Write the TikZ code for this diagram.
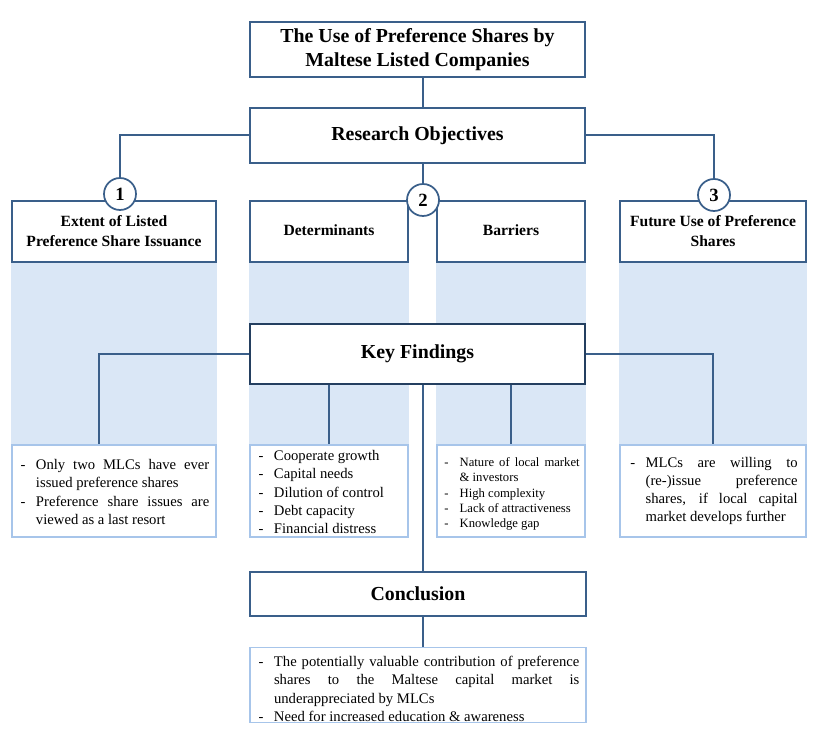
\documentclass[tikz,border=0pt]{standalone}
\usepackage{fontspec}
\setmainfont{Liberation Serif}
\usetikzlibrary{backgrounds}
\definecolor{edgeblue}{HTML}{3A5F8A}
\definecolor{darkedge}{HTML}{243F60}
\definecolor{stripblue}{HTML}{DAE7F6}
\definecolor{listedge}{HTML}{A7C5EA}
\newlength\dashind
\setlength\dashind{13pt}
\newcommand\dashitem{\par\noindent\hangindent=\dashind\hangafter=1\makebox[\dashind][l]{\hspace{1.5pt}-}}
\newcommand\liftup[1]{\vspace*{-#1}}
\newcommand\listfont{\fontsize{11}{13.7}\selectfont\tolerance=10000\hyphenpenalty=10000}
\newcommand\smallistfont{\fontsize{9.5}{11.5}\selectfont\tolerance=10000\hyphenpenalty=10000}
\tikzset{
    topbox/.style={draw=edgeblue, line width=1.3pt, fill=white, align=center,
        font=\fontsize{14.9}{18.5}\selectfont\bfseries, minimum width=251.25pt},
    headbox/.style={draw=edgeblue, line width=1.3pt, fill=white, align=center,
        font=\fontsize{11.7}{15}\selectfont\bfseries, minimum height=45.75pt},
    listbox/.style={draw=listedge, line width=1.1pt, fill=white, align=justify,
        inner xsep=5pt, inner ysep=0.5pt, minimum height=69pt, font=\listfont},
    numcircle/.style={circle, draw=edgeblue, line width=1.3pt, fill=white,
        minimum size=24pt, inner sep=0pt, font=\fontsize{14}{14}\selectfont\bfseries},
    link/.style={draw=edgeblue, line width=1.5pt}
}
\begin{document}
\begin{tikzpicture}[x=0.75pt, y=-0.75pt]
    \useasboundingbox (0,0) rectangle (817,737);
    \node[topbox, minimum height=41.25pt] (title) at (417.5,49.5)
        {The Use of Preference Shares by\\Maltese Listed Companies};
    \node[topbox, minimum height=41.25pt] (ro) at (417.5,135.5) {Research Objectives};
    \node[headbox, minimum width=153pt] (ext) at (114,231.5)
        {Extent of Listed\\Preference Share Issuance};
    \node[headbox, minimum width=118.5pt] (det) at (329,231.5) {\raisebox{2.5pt}{Determinants}};
    \node[headbox, minimum width=111pt] (bar) at (511,231.5) {\raisebox{2.5pt}{Barriers}};
    \node[headbox, minimum width=139.5pt] (fut) at (713,231.5)
        {Future Use of Preference\\Shares};
    \node[numcircle] (c1) at (120,194) {1};
    \node[numcircle] (c2) at (423,200) {2};
    \node[numcircle] (c3) at (714,195) {3};
    \node[listbox, text width=143pt] (l1) at (114,491)
        {\liftup{4.5pt}\dashitem Only two MLCs have ever \linebreak issued preference shares
         \dashitem Preference share issues are \linebreak viewed as a last resort\par};
    \node[listbox, text width=108.5pt] (l2) at (329,491)
        {\liftup{4.5pt}\dashitem Cooperate growth
         \dashitem Capital needs
         \dashitem Dilution of control
         \dashitem Debt capacity
         \dashitem Financial distress\par};
    \node[listbox, text width=103pt, inner xsep=4pt, font=\smallistfont] (l3) at (511,491)
        {\dashitem Nature of local market \linebreak \& investors
         \dashitem High complexity
         \dashitem Lack of attractiveness
         \dashitem Knowledge gap\par};
    \node[listbox, text width=127pt, inner xsep=6.25pt] (l4) at (713,491)
        {\liftup{6pt}\dashitem MLCs are willing to \linebreak (re-)issue preference \linebreak
         shares, if local capital \linebreak market develops further\par};
    \begin{scope}[on background layer]
        \fill[stripblue] (ext.south west) rectangle (l1.north east);
        \fill[stripblue] (det.south west) rectangle (l2.north east);
        \fill[stripblue] (bar.south west) rectangle (l3.north east);
        \fill[stripblue] (fut.south west) rectangle (l4.north east);
    \end{scope}
    \node[topbox, draw=darkedge, line width=2pt, minimum height=45pt] (kf) at (417.5,354)
        {Key Findings};
    \node[topbox, minimum width=252pt, minimum height=33pt] (concl) at (418,594) {Conclusion};
    \node[listbox, text width=242pt, minimum height=56.25pt] (cl) at (418,685)
        {\dashitem The potentially valuable contribution of preference \linebreak
         shares to the Maltese capital market is \linebreak underappreciated by MLCs
         \dashitem Need for increased education \& awareness\par};
    \draw[link] (c2 |- title.south) -- (c2 |- ro.north);
    \draw[link] (c2 |- ro.south) -- (c2);
    \draw[link] (ro.west) -| (c1);
    \draw[link] (ro.east) -| (c3);
    \draw[link] (kf.west) -| ([xshift=-11.25pt]l1.north);
    \draw[link] (kf.east) -| (l4.north);
    \draw[link] (kf.south -| l2.north) -- (l2.north);
    \draw[link] (kf.south -| l3.north) -- (l3.north);
    \draw[link] (c2 |- kf.south) -- (c2 |- concl.north);
    \draw[link] (c2 |- concl.south) -- (c2 |- cl.north);
\end{tikzpicture}
\end{document}
